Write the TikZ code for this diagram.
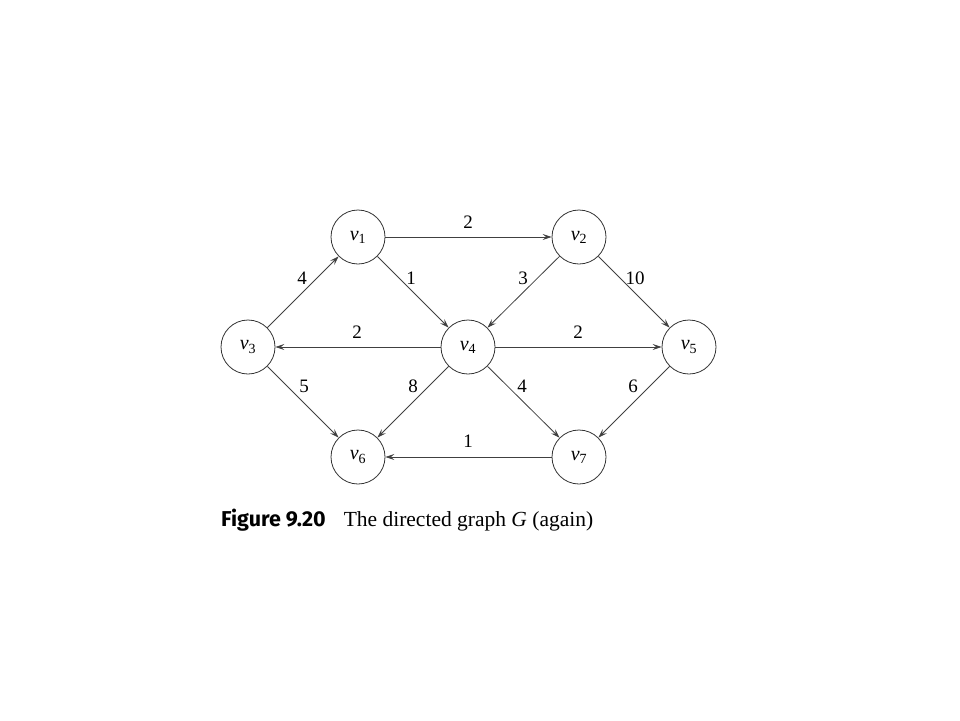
\documentclass[tikz,border=0pt]{standalone}
\usepackage{fontspec}
\setmainfont{Liberation Serif}
\newfontfamily\capsans{Fira Sans}
\usetikzlibrary{arrows.meta}
\newcommand{\vv}[1]{\textit{v}\textsubscript{#1}}
\begin{document}
\begin{tikzpicture}[x=1pt,y=-1pt,
  vert/.style={circle,draw=black!80,line width=0.8pt,minimum size=54pt,inner sep=0pt,font=\fontsize{20}{20}\selectfont},
  edge/.style={draw=black!75,line width=0.8pt,-{Stealth[length=9pt,width=6pt,inset=3.5pt]}},
  wt/.style={font=\fontsize{19}{19}\selectfont,inner sep=1pt}]
\useasboundingbox (0,0) rectangle (960,720);
\node[vert] (v1) at (358,237) {\vv{1}};
\node[vert] (v2) at (579,237) {\vv{2}};
\node[vert] (v3) at (248,347) {\vv{3}};
\node[vert] (v4) at (468,347) {\vv{4}};
\node[vert] (v5) at (689,347) {\vv{5}};
\node[vert] (v6) at (358,457) {\vv{6}};
\node[vert] (v7) at (579,457) {\vv{7}};
\draw[edge] (v1) -- (v2);
\draw[edge] (v3) -- (v1);
\draw[edge] (v1) -- (v4);
\draw[edge] (v2) -- (v4);
\draw[edge] (v2) -- (v5);
\draw[edge] (v4) -- (v3);
\draw[edge] (v4) -- (v5);
\draw[edge] (v3) -- (v6);
\draw[edge] (v4) -- (v6);
\draw[edge] (v4) -- (v7);
\draw[edge] (v5) -- (v7);
\draw[edge] (v7) -- (v6);
\node[wt] (w12) at (468,222) {2};
\node[wt] (w31) at (302,278) {4};
\node[wt] (w14) at (411,278) {1};
\node[wt] (w24) at (523,278) {3};
\node[wt] (w25) at (635,278) {10};
\node[wt] (w43) at (357,332) {2};
\node[wt] (w45) at (578,332) {2};
\node[wt] (w36) at (304,386) {5};
\node[wt] (w46) at (413,386) {8};
\node[wt] (w47) at (522,386) {4};
\node[wt] (w57) at (633,386) {6};
\node[wt] (w76) at (468,441) {1};
\node[anchor=west,inner sep=0pt,font=\fontsize{21.5}{21.5}\selectfont] (cap) at (221,520)
  {{\capsans\fontsize{21.5}{21.5}\selectfont\bfseries Figure 9.20}\hspace{18pt}The directed graph \textit{G} (again)};
\end{tikzpicture}
\end{document}
